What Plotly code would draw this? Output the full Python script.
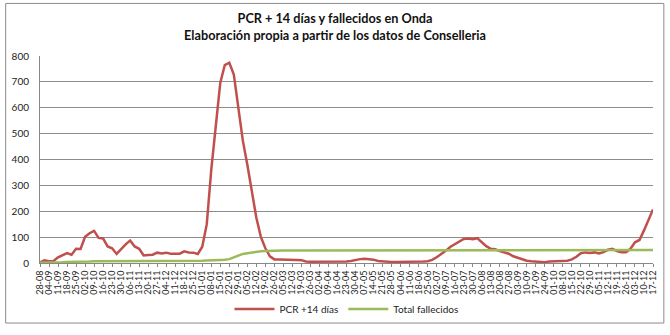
import plotly.graph_objects as go

tick_labels = ["28-08","04-09","11-09","18-09","25-09","02-10","09-10","16-10","23-10","30-10",
               "06-11","13-11","20-11","27-11","04-12","11-12","18-12","25-12","01-01","08-01",
               "15-01","22-01","29-01","05-02","12-02","19-02","26-02","05-03","12-03","19-03",
               "26-03","02-04","09-04","16-04","23-04","30-04","07-05","14-05","21-05","28-05",
               "04-06","11-06","18-06","25-06","02-07","09-07","16-07","23-07","30-07","06-08",
               "13-08","20-08","27-08","03-09","10-09","17-09","24-09","01-10","08-10","15-10",
               "22-10","29-10","05-11","12-11","19-11","26-11","03-12","10-12","17-12"]

pcr = [2, 10, 7, 8, 22, 30, 38, 32, 55, 54,
       101, 115, 124, 97, 95, 64, 57, 35, 55, 72,
       87, 64, 55, 29, 31, 32, 40, 37, 40, 36,
       36, 36, 45, 41, 40, 35, 63, 150, 361, 535,
       697, 765, 774, 728, 610, 473, 380, 274, 175, 101,
       57, 26, 14, 14, 14, 13, 12, 12, 11, 6,
       5, 5, 5, 5, 6, 7, 5, 5, 6, 8,
       12, 15, 16, 15, 13, 8, 6, 5, 4, 4,
       4, 5, 5, 5, 6, 6, 7, 12, 22, 33,
       47, 62, 72, 84, 93, 95, 92, 96, 82, 65,
       55, 53, 46, 41, 36, 26, 20, 14, 9, 7,
       6, 5, 3, 6, 7, 7, 7, 9, 14, 24,
       38, 41, 39, 41, 37, 42, 51, 55, 46, 42,
       42, 55, 80, 89, 126, 165, 207]

fallecidos = [1, 1, 2, 2, 3, 3, 4, 4, 5, 5,
              6, 6, 7, 7, 8, 8, 8, 8, 9, 9,
              9, 9, 9, 9, 9, 9, 9, 9, 9, 9,
              9, 9, 9, 9, 9, 9, 9, 10, 10, 11,
              12, 13, 15, 22, 30, 35, 38, 41, 43, 45,
              46, 47, 48, 48, 48, 48, 48, 48, 48, 48,
              48, 48, 48, 48, 48, 48, 48, 48, 48, 48,
              48, 48, 48, 48, 48, 48, 50, 50, 50, 50,
              50, 50, 50, 50, 50, 50, 50, 50, 50, 50,
              50, 50, 50, 50, 50, 50, 50, 50, 50, 50,
              50, 50, 50, 50, 50, 50, 50, 50, 50, 50,
              50, 50, 50, 50, 50, 50, 50, 50, 50, 50,
              50, 50, 50, 50, 50, 50, 50, 50, 50, 50,
              50, 50, 50, 50, 50, 50, 50]

x = list(range(len(pcr)))
tickvals = list(range(0, len(pcr), 2))[:len(tick_labels)]

fig = go.Figure()
fig.add_trace(go.Scatter(x=x, y=pcr, mode="lines", name="PCR +14 días",
                         line=dict(color="#C0504D", width=2.5)))
fig.add_trace(go.Scatter(x=x, y=fallecidos, mode="lines", name="Total fallecidos",
                         line=dict(color="#9BBB59", width=2.5)))

fig.update_layout(
    width=670, height=335,
    margin=dict(l=37, r=13, t=56, b=65),
    paper_bgcolor="white", plot_bgcolor="white",
    font=dict(family="Lato, Liberation Sans, sans-serif", color="#222", size=10),
    title=dict(text="<b>PCR + 14 días y fallecidos en Onda<br>Elaboración propia a partir de los datos de Conselleria</b>",
               x=0.5, xanchor="center", y=0.93, yanchor="middle",
               font=dict(size=12.7, color="#111")),
    showlegend=True,
    legend=dict(orientation="h", x=0.5, xanchor="center", y=-0.222, yanchor="middle",
                font=dict(size=10, color="#222"), bgcolor="rgba(0,0,0,0)",
                itemwidth=40, tracegroupgap=0),
    shapes=[dict(type="rect", xref="paper", yref="paper",
                 x0=-0.056, x1=1.0177, y0=-0.29, y1=1.254,
                 line=dict(color="#8c8c8c", width=1), fillcolor="rgba(0,0,0,0)", layer="below")],
)
fig.update_xaxes(range=[0, len(pcr) - 1], tickmode="array", tickvals=tickvals, ticktext=tick_labels,
                 tickangle=-90, tickfont=dict(size=9), showgrid=False, zeroline=False,
                 showline=True, linecolor="#888", linewidth=1, ticks="outside", ticklen=3,
                 tickcolor="#888")
fig.update_yaxes(range=[0, 800], dtick=100, showgrid=True, gridcolor="#8c8c8c", gridwidth=1,
                 zeroline=False, showline=True, linecolor="#888", linewidth=1,
                 ticks="", ticklabelstandoff=8, tickfont=dict(size=10))

fig.write_html("out.html")
